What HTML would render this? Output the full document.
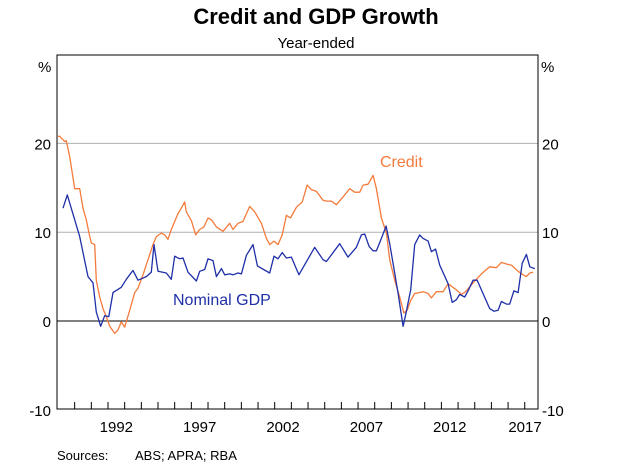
<!DOCTYPE html>
<html><head><meta charset="utf-8"><style>
body{margin:0;background:#fff;font-family:"Liberation Sans",Arial,sans-serif;}
svg text{font-family:"Liberation Sans",Arial,sans-serif;}
</style></head><body>
<svg id="chart" width="632" height="467" viewBox="0 0 632 467">
<text x="316" y="24" text-anchor="middle" font-size="22" font-weight="bold">Credit and GDP Growth</text>
<text x="316" y="48" text-anchor="middle" font-size="15">Year-ended</text>
<text x="38" y="72" font-size="15">%</text>
<text x="541" y="72" font-size="15">%</text>
<g id="grid"></g>
<g id="ticks"></g>
<g id="series"></g>
<rect x="57" y="55" width="481" height="354" fill="none" stroke="#000" stroke-width="1"/>
<text x="380" y="167" font-size="16" fill="#f47b3c">Credit</text>
<text x="173" y="305" font-size="16" fill="#1f2fa8">Nominal GDP</text>
<text x="57" y="460" font-size="13">Sources:</text>
<text x="135" y="460" font-size="13">ABS; APRA; RBA</text>
</svg>
<script>
const yTicks=[-10,0,10,20];
const xLabels=[1992,1997,2002,2007,2012,2017];
const gdpYears=[1989.3,1989.56,1990.3,1990.8,1991.1,1991.3,1991.56,1991.8,1992.05,1992.3,1992.8,1993.1,1993.5,1993.8,1994.3,1994.6,1994.76,1995.0,1995.5,1995.8,1996.0,1996.3,1996.5,1996.8,1997.3,1997.5,1997.8,1998.0,1998.3,1998.5,1998.8,1999.0,1999.3,1999.5,1999.8,2000.0,2000.3,2000.7,2000.96,2001.7,2001.96,2002.2,2002.45,2002.7,2003.0,2003.45,2004.4,2004.9,2005.1,2005.9,2006.4,2006.9,2007.2,2007.4,2007.66,2007.9,2008.1,2008.4,2008.68,2008.9,2009.2,2009.4,2009.7,2009.9,2010.16,2010.4,2010.7,2010.9,2011.2,2011.4,2011.65,2011.9,2012.4,2012.65,2012.9,2013.1,2013.4,2013.6,2013.9,2014.15,2014.4,2014.9,2015.15,2015.4,2015.6,2015.9,2016.1,2016.35,2016.6,2016.85,2017.1,2017.3,2017.6];
const gdpValues=[12.7,14.2,9.5,5.0,4.3,1.0,-0.6,0.6,0.5,3.2,3.8,4.7,5.7,4.6,5.0,5.5,8.6,5.6,5.4,4.7,7.3,7.0,7.1,5.5,4.5,5.6,5.8,7.0,6.8,5.0,5.9,5.2,5.3,5.2,5.4,5.3,7.4,8.6,6.2,5.4,7.3,7.0,7.7,7.1,7.2,5.2,8.3,6.9,6.7,8.7,7.2,8.3,9.7,9.8,8.4,7.9,7.9,9.3,10.7,8.7,5.4,3.1,-0.6,1.1,3.5,8.6,9.7,9.3,9.0,7.8,8.1,6.3,4.2,2.1,2.4,3.0,2.7,3.4,4.6,4.6,3.5,1.4,1.1,1.2,2.2,1.9,1.9,3.4,3.2,6.5,7.5,6.1,5.9];
const creditYears=[1989.0,1989.1,1989.4,1989.5,1989.7,1990.0,1990.3,1990.5,1990.7,1990.86,1991.0,1991.2,1991.3,1991.5,1991.7,1991.9,1992.1,1992.4,1992.6,1992.8,1993.0,1993.3,1993.6,1993.8,1994.1,1994.4,1994.7,1994.9,1995.2,1995.4,1995.6,1995.8,1996.2,1996.4,1996.6,1996.7,1997.0,1997.26,1997.5,1997.75,1998.0,1998.2,1998.5,1998.9,1999.3,1999.5,1999.8,2000.1,2000.5,2000.8,2001.2,2001.5,2001.7,2001.96,2002.2,2002.45,2002.7,2002.95,2003.3,2003.65,2003.95,2004.2,2004.5,2004.9,2005.1,2005.4,2005.7,2006.2,2006.5,2006.8,2007.1,2007.3,2007.6,2007.9,2008.1,2008.4,2008.7,2008.9,2009.2,2009.5,2009.75,2009.95,2010.15,2010.4,2010.9,2011.2,2011.4,2011.7,2012.1,2012.4,2012.9,2013.2,2013.45,2013.9,2014.4,2014.9,2015.3,2015.6,2015.95,2016.2,2016.6,2016.9,2017.1,2017.3,2017.5];
const creditValues=[20.8,20.8,20.2,20.3,18.5,14.9,14.9,12.7,11.4,9.9,8.8,8.6,4.6,2.7,1.4,0.5,-0.6,-1.4,-1.0,-0.1,-0.7,1.2,3.2,3.7,5.2,6.9,8.6,9.5,9.9,9.7,9.2,10.3,12.1,12.7,13.4,12.3,11.3,9.7,10.3,10.6,11.6,11.4,10.6,10.1,11.0,10.3,11.0,11.2,12.9,12.3,11.0,9.3,8.6,9.0,8.6,9.7,11.9,11.6,12.8,13.4,15.3,14.8,14.6,13.6,13.5,13.5,13.1,14.2,14.9,14.5,14.5,15.3,15.4,16.4,14.9,11.6,9.9,6.9,4.6,2.7,0.9,1.2,2.3,3.1,3.3,3.1,2.6,3.3,3.3,4.2,3.5,3.0,3.3,4.3,5.3,6.1,6.0,6.6,6.4,6.3,5.6,5.2,5.0,5.4,5.5];

const NS='http://www.w3.org/2000/svg';
const L=57,R=538,T=55,B=409;
function xs(yr){return 108+(yr-1992)*16.67;}
function ys(v){return 321-v*8.88;}
function mk(tag,attrs,parent){const e=document.createElementNS(NS,tag);for(const k in attrs)e.setAttribute(k,attrs[k]);parent.appendChild(e);return e;}
const grid=document.getElementById('grid'),ticks=document.getElementById('ticks'),series=document.getElementById('series'),svg=document.getElementById('chart');
yTicks.forEach(v=>{
  const y=ys(v);
  if(v>-10){const g=mk('line',{x1:L,x2:R,y1:y,y2:y,stroke:v===0?'#000':'#b0b0b0','stroke-width':1},grid);
  
  }
  const tl=mk('text',{x:51,y:y+6,'text-anchor':'end','font-size':15},svg);tl.textContent=v;
  
  
  const tr=mk('text',{x:542,y:y+6,'text-anchor':'start','font-size':15},svg);tr.textContent=v;
  
  
});
for(let yr=1990;yr<=2017;yr++){
  const x=xs(yr);
  const t=mk('line',{x1:x,x2:x,y1:B,y2:B-7,stroke:'#000','stroke-width':1},ticks);
  
  
}
xLabels.forEach(yr=>{
  let x=xs(yr+0.5); if(x>525)x=525;
  const t=mk('text',{x:x,y:432,'text-anchor':'middle','font-size':15},svg);t.textContent=yr;
  
  
});
function line(xsArr,vals,color,name){
  const d=xsArr.map((yr,i)=>(i?'L':'M')+Math.max(L,xs(yr)).toFixed(1)+','+ys(vals[i]).toFixed(1)).join(' ');
  const p=mk('path',{d:d,fill:'none',stroke:color,'stroke-width':1.3,'stroke-linejoin':'round'},series);
  
  
}
line(creditYears,creditValues,'#f47b3c','credit-line');
line(gdpYears,gdpValues,'#1f2fa8','nominal-gdp-line');
</script>
</body></html>
